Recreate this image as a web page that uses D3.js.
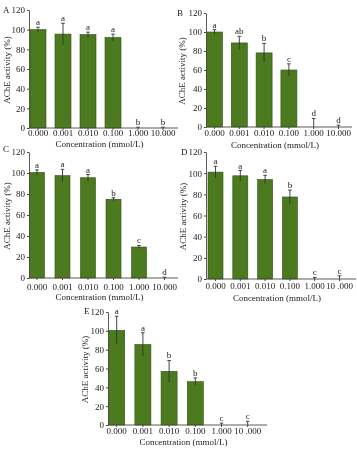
<!DOCTYPE html>
<html>
<head>
<meta charset="utf-8">
<script src="https://cdn.jsdelivr.net/npm/d3@7/dist/d3.min.js"></script>
<style>
  html, body { margin: 0; padding: 0; background: #fff; }
  svg { display: block; will-change: transform; }
  text { font-family: "Liberation Serif", "Times New Roman", serif; fill: #222; }
</style>
</head>
<body>
<svg id="chart" width="357" height="449"></svg>
<script>
// ---- data ----
const categories = ["0.000", "0.001", "0.010", "0.100", "1.000", "10.000"];
const tickLabelsABC = ["0.000", "0.001", "0.010", "0.100", "1.000", "10.000"];
const tickLabelsDE = ["0.000", "0.001", "0.010", "0.100", "1.000", "10 .000"];
const yTicks = [0, 20, 40, 60, 80, 100, 120];

const valuesA = [100, 95.5, 95, 92, 0, 0];
const errorsA = [2.5, 11, 2.5, 3.5, 0.8, 0.8];
const lettersA = ["a", "a", "a", "a", "b", "b"];

const valuesB = [100, 88.5, 78, 60, 0, 0];
const errorsB = [2.5, 7, 10, 6.5, 9, 2];
const lettersB = ["a", "ab", "b", "c", "d", "d"];

const valuesC = [100.5, 97.5, 95.5, 75, 29.5, 0];
const errorsC = [2.5, 6, 3, 1.5, 1.5, 0.8];
const lettersC = ["a", "a", "a", "b", "c", "d"];

const valuesD = [101, 97.5, 94, 77.5, 0, 0];
const errorsD = [5.5, 5, 4, 6.5, 1.5, 3];
const lettersD = ["a", "a", "a", "b", "c", "c"];

const valuesE = [100.5, 85.5, 57, 46, 0, 0];
const errorsE = [15, 12.5, 11.5, 4, 2, 4];
const lettersE = ["a", "a", "b", "b", "c", "c"];

const xTitle = "Concentration (mmol/L)";
const yTitle = "AChE activity (%)";

// ---- layout per panel ----
const panels = [
  { id: "A", values: valuesA, errors: errorsA, letters: lettersA, ticks: tickLabelsABC,
    x0: 29, xEnd: 178, yTop: 10, yBot: 128, step: 25, offset: 9, bw: 16,
    tickDy: 5, titleDy: 16, idX: 3, idY: 10, yTitleX: 7 },
  { id: "B", values: valuesB, errors: errorsB, letters: lettersB, ticks: tickLabelsABC,
    x0: 206, xEnd: 352, yTop: 13, yBot: 127, step: 24.8, offset: 8.5, bw: 16,
    tickDy: 5.5, titleDy: 18, idX: 177, idY: 12.5, yTitleX: 182 },
  { id: "C", values: valuesC, errors: errorsC, letters: lettersC, ticks: tickLabelsABC,
    x0: 29, xEnd: 178, yTop: 152, yBot: 278, step: 25.5, offset: 8, bw: 15,
    tickDy: 8.5, titleDy: 19, idX: 3, idY: 148.5, yTitleX: 7 },
  { id: "D", values: valuesD, errors: errorsD, letters: lettersD, ticks: tickLabelsDE,
    x0: 206, xEnd: 356, yTop: 152, yBot: 279, step: 24.8, offset: 9.5, bw: 15,
    tickDy: 6.5, titleDy: 18.5, idX: 181, idY: 152, yTitleX: 183 },
  { id: "E", values: valuesE, errors: errorsE, letters: lettersE, ticks: tickLabelsDE,
    x0: 108, xEnd: 267, yTop: 312, yBot: 425, step: 26.2, offset: 8.7, bw: 16,
    tickDy: 6, titleDy: 16.5, idX: 84, idY: 311, yTitleX: 85 }
];

const svg = d3.select("#chart");
const barFill = "#4b7a1f";
const barStroke = "#2f5012";
const axisColor = "#4a4a40";
const fs = 9;

panels.forEach(p => {
  const n = categories.length;
  const pi = 1 - p.bw / p.step;
  const po = (p.offset - p.bw / 2) / p.step;
  const rangeLen = p.step * (n - pi + 2 * po);
  const x = d3.scaleBand().domain(categories)
    .range([p.x0, p.x0 + rangeLen]).paddingInner(pi).paddingOuter(po);
  const y = d3.scaleLinear().domain([0, 120]).range([p.yBot, p.yTop]);

  const g = svg.append("g");

  // bars
  g.selectAll("rect.bar").data(categories).join("rect")
    .attr("class", "bar")
    .attr("x", d => x(d))
    .attr("width", x.bandwidth())
    .attr("y", (d, i) => y(p.values[i]))
    .attr("height", (d, i) => y(0) - y(p.values[i]))
    .attr("fill", barFill)
    .attr("stroke", barStroke)
    .attr("stroke-width", 0.6);

  // error bars
  const cx = d => x(d) + x.bandwidth() / 2;
  g.selectAll("line.err").data(categories).join("line")
    .attr("class", "err")
    .attr("x1", cx).attr("x2", cx)
    .attr("y1", (d, i) => y(Math.max(0, p.values[i] - p.errors[i])))
    .attr("y2", (d, i) => y(p.values[i] + p.errors[i]))
    .attr("stroke", "#333").attr("stroke-width", 0.9);
  g.selectAll("line.cap").data(categories).join("line")
    .attr("class", "cap")
    .attr("x1", d => cx(d) - 1.8).attr("x2", d => cx(d) + 1.8)
    .attr("y1", (d, i) => y(p.values[i] + p.errors[i]))
    .attr("y2", (d, i) => y(p.values[i] + p.errors[i]))
    .attr("stroke", "#333").attr("stroke-width", 0.9);

  // significance letters
  g.selectAll("text.sig").data(categories).join("text")
    .attr("class", "sig")
    .attr("x", cx)
    .attr("y", (d, i) => y(p.values[i] + p.errors[i]) - 2)
    .attr("text-anchor", "middle")
    .attr("font-size", fs)
    .text((d, i) => p.letters[i]);

  // y axis
  const yAxis = g.append("g").attr("transform", `translate(${p.x0},0)`)
    .call(d3.axisLeft(y).tickValues(yTicks).tickFormat(d3.format("d")).tickSize(2).tickPadding(2).tickSizeOuter(0));
  yAxis.select(".domain").attr("stroke", axisColor).attr("stroke-width", 0.9);
  yAxis.selectAll(".tick line").attr("stroke", axisColor);
  yAxis.selectAll(".tick text").attr("font-size", fs).attr("font-family", "Liberation Serif, serif").attr("fill", "#222");

  // x axis
  const xAxis = g.append("g").attr("transform", `translate(0,${p.yBot})`)
    .call(d3.axisBottom(x).tickFormat((d, i) => p.ticks[i]).tickSize(2).tickSizeOuter(0).tickPadding(1));
  xAxis.select(".domain").attr("d", `M${p.x0},0H${p.xEnd}`)
    .attr("stroke", axisColor).attr("stroke-width", 0.9);
  xAxis.selectAll(".tick line").attr("stroke", axisColor);
  xAxis.selectAll(".tick text").attr("font-size", fs).attr("font-family", "Liberation Serif, serif").attr("fill", "#222")
    .attr("dy", null).attr("y", p.tickDy).attr("dominant-baseline", "central");

  // x title
  g.append("text")
    .attr("x", (p.x0 + p.xEnd) / 2 - 4)
    .attr("y", p.yBot + p.titleDy)
    .attr("text-anchor", "middle")
    .attr("dominant-baseline", "central")
    .attr("font-size", fs)
    .text(xTitle);

  // y title
  g.append("text")
    .attr("transform", `translate(${p.yTitleX},${(p.yTop + p.yBot) / 2 + 1}) rotate(-90)`)
    .attr("text-anchor", "middle")
    .attr("dominant-baseline", "central")
    .attr("font-size", fs)
    .text(yTitle);

  // panel id
  g.append("text")
    .attr("x", p.idX).attr("y", p.idY)
    .attr("dominant-baseline", "central")
    .attr("font-size", fs)
    .text(p.id);
});
</script>
</body>
</html>
